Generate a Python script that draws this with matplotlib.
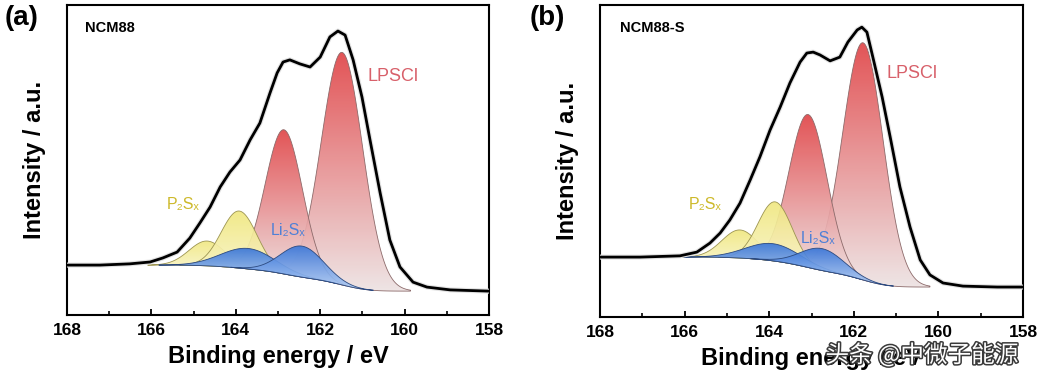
import numpy as np
import matplotlib
matplotlib.use("Agg")
import matplotlib.pyplot as plt
from matplotlib.patches import Polygon
import matplotlib.patheffects as pe

plt.rcParams['font.family'] = ['Liberation Sans', 'DejaVu Sans']

# ---- measured spectrum (black line), binding energy / eV vs intensity (a.u.)
be_a = [168.00, 167.22, 166.51, 166.03, 165.73, 165.39, 165.09, 164.85, 164.61,
        164.37, 164.14, 163.90, 163.66, 163.43, 163.19, 163.02, 162.88, 162.72,
        162.48, 162.24, 162.00, 161.77, 161.58, 161.41, 161.22, 161.01, 160.82,
        160.58, 160.35, 160.11, 159.80, 159.47, 158.92, 158.00]
int_a = [16.1, 16.1, 16.5, 17.1, 18.4, 20.3, 24.8, 29.7, 34.8,
         41.3, 46.1, 50.0, 56.5, 61.9, 71.6, 78.1, 81.6, 82.3,
         81.0, 80.0, 83.2, 89.7, 91.6, 90.3, 82.3, 70.3, 56.5,
         39.4, 24.2, 15.5, 10.6, 9.0, 8.1, 7.7]

be_b = [168.00, 167.05, 166.11, 165.71, 165.40, 165.16, 164.93, 164.69, 164.45,
        164.22, 163.98, 163.74, 163.51, 163.27, 163.11, 162.96, 162.80, 162.56,
        162.33, 162.14, 161.92, 161.81, 161.69, 161.55, 161.33, 161.14, 160.91,
        160.67, 160.43, 160.20, 159.89, 159.42, 158.61, 158.00]
int_b = [19.2, 19.2, 19.6, 20.8, 23.7, 26.9, 31.1, 36.5, 43.9,
         51.3, 59.9, 67.3, 75.0, 81.7, 84.6, 84.9, 84.0, 82.1,
         83.3, 88.1, 92.0, 92.9, 91.3, 83.3, 70.5, 57.7, 41.7,
         28.8, 18.3, 13.5, 10.9, 9.9, 9.6, 9.6]

# ---- fitted components: centre (eV), height above background, FWHM (eV)
# order: LPSCl 2p3/2, LPSCl 2p1/2, P2Sx (small), P2Sx, Li2Sx, Li2Sx
kinds = ['red', 'red', 'yellow', 'yellow', 'blue', 'blue']
cen_a = [161.48, 162.86, 164.68, 163.92, 163.71, 162.43]
amp_a = [75.0, 46.5, 8.0, 18.4, 6.6, 10.0]
fwhm_a = [1.15, 1.04, 1.00, 1.00, 1.50, 1.20]
bg_a = [16.1, 7.7]   # background level at 168 eV and 158 eV

cen_b = [161.78, 163.08, 164.69, 163.86, 163.91, 162.75]
amp_b = [76.0, 49.0, 9.0, 19.0, 5.5, 7.0]
fwhm_b = [1.12, 1.06, 1.00, 0.95, 1.50, 1.20]
bg_b = [19.2, 9.6]

colors = {
    'red': ((0.88, 0.27, 0.28), (0.93, 0.89, 0.89), '#8c6a6a'),
    'yellow': ((0.94, 0.91, 0.50), (0.98, 0.96, 0.80), '#9c9450'),
    'blue': ((0.22, 0.46, 0.85), (0.70, 0.81, 0.96), '#2c4a80'),
}


def gauss(x, c, a, w):
    s = w / 2.3548
    return a * np.exp(-0.5 * ((x - c) / s) ** 2)


def grad_fill(ax, x, lower, upper, top, bot, edge, z):
    verts = np.concatenate([np.column_stack([x, upper]),
                            np.column_stack([x[::-1], lower[::-1]])])
    patch = Polygon(verts, closed=True, facecolor='none', edgecolor=edge,
                    lw=0.6, zorder=z + 0.1)
    ax.add_patch(patch)
    t = np.linspace(0, 1, 256)[:, None, None]
    img = np.array(bot)[None, None, :] + (np.array(top) - np.array(bot))[None, None, :] * t
    im = ax.imshow(img, extent=[x.min(), x.max(), lower.min(), upper.max()],
                   origin='lower', aspect='auto', zorder=z, alpha=0.92,
                   interpolation='bilinear')
    im.set_clip_path(patch)


def panel(ax, be, inten, cen, amp, fwhm, bg, name, pos):
    x = np.linspace(158, 168, 2001)
    peaks = [gauss(x, c, a, w) for c, a, w in zip(cen, amp, fwhm)]
    total = np.sum(peaks, axis=0)
    # Shirley-type background from the fitted area
    cum = np.concatenate([[0], np.cumsum((total[1:] + total[:-1]) / 2 * np.diff(x))])
    base = bg[1] + (bg[0] - bg[1]) * cum / cum[-1]

    for i, (k, p) in enumerate(zip(kinds, peaks)):
        m = p > amp[i] * 0.004
        top, bot, edge = colors[k]
        grad_fill(ax, x[m], base[m], base[m] + p[m], top, bot, edge, 2 + i)

    ax.plot(be, inten, color='#e2e2e2', lw=3.6, zorder=9, solid_joinstyle='round')
    ax.plot(be, inten, color='black', lw=2.0, zorder=10, solid_joinstyle='round')

    ax.set_xlim(168, 158)
    ax.set_ylim(0, 100)
    ax.set_xticks([168, 166, 164, 162, 160, 158])
    ax.set_xticks([167, 165, 163, 161, 159], minor=True)
    ax.set_yticks([])
    ax.tick_params(axis='x', which='major', direction='in', length=4, width=1.3,
                   labelsize=12.5, pad=6)
    ax.tick_params(axis='x', which='minor', direction='in', length=3, width=1.2)
    for lab in ax.get_xticklabels():
        lab.set_fontweight('bold')
    for sp in ax.spines.values():
        sp.set_linewidth(1.5)
    ax.set_xlabel('Binding energy / eV', fontsize=17, fontweight='bold', labelpad=5)
    ax.set_ylabel('Intensity / a.u.', fontsize=17, fontweight='bold', labelpad=15)

    ax.text(pos['name'][0], pos['name'][1], name, fontsize=10.5, fontweight='bold',
            ha='left', va='center', zorder=12)
    ax.text(pos['lpscl'][0], pos['lpscl'][1], 'LPSCl', fontsize=13,
            color='#d8606a', ha='center', va='center', zorder=12)
    ax.text(pos['p2s'][0], pos['p2s'][1], 'P₂Sₓ', fontsize=11.5,
            color='#cdb92a', ha='center', va='center', zorder=12)
    ax.text(pos['li2s'][0], pos['li2s'][1], 'Li₂Sₓ', fontsize=11.5,
            color='#4f80d6', ha='center', va='center', zorder=12)


fig = plt.figure(figsize=(10.44, 3.82), dpi=100)
ax_a = fig.add_axes([67 / 1044, 1 - 315 / 382, 422 / 1044, 310 / 382])
ax_b = fig.add_axes([600 / 1044, 1 - 317 / 382, 423 / 1044, 312 / 382])

panel(ax_a, be_a, int_a, cen_a, amp_a, fwhm_a, bg_a, 'NCM88',
      {'name': (167.57, 92.6), 'lpscl': (160.27, 76.8),
       'p2s': (165.25, 35.8), 'li2s': (162.76, 27.4)})
panel(ax_b, be_b, int_b, cen_b, amp_b, fwhm_b, bg_b, 'NCM88-S',
      {'name': (167.53, 92.6), 'lpscl': (160.62, 78.2),
       'p2s': (165.52, 35.9), 'li2s': (162.85, 25.3)})

fig.text(5 / 1044, 1 - 18 / 382, '(a)', fontsize=20, fontweight='bold',
         ha='left', va='center')
fig.text(530 / 1044, 1 - 18 / 382, '(b)', fontsize=20, fontweight='bold',
         ha='left', va='center')

# watermark that sits over panel (b) in the source image
fig.text(922 / 1044, 1 - 355 / 382, '头条 @中微子能源', fontsize=17,
         family=['Noto Sans CJK SC', 'DejaVu Sans'], color='white',
         ha='center', va='center', zorder=20,
         path_effects=[pe.withStroke(linewidth=2.2, foreground='#3a3a3a')])

fig.savefig('out.png', dpi=100)
